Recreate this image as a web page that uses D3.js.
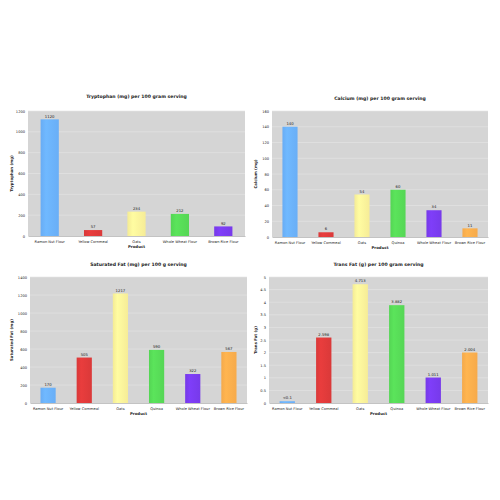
<!DOCTYPE html>
<html>
<head>
<meta charset="utf-8">
<script src="https://cdn.jsdelivr.net/npm/d3@7"></script>
<style>
  body { margin: 0; background: #fff; }
  text { font-family: "DejaVu Sans", Verdana, sans-serif; fill: #222; }
</style>
</head>
<body>
<script>
// data
var tryptoProducts = ["Ramon Nut Flour", "Yellow Cornmeal", "Oats", "Whole Wheat Flour", "Brown Rice Flour"];
var tryptoValues = [1120, 57, 234, 212, 92];
var tryptoLabels = ["1120", "57", "234", "212", "92"];
var tryptoTicks = [0, 200, 400, 600, 800, 1000, 1200];

var sixProducts = ["Ramon Nut Flour", "Yellow Cornmeal", "Oats", "Quinoa", "Whole Wheat Flour", "Brown Rice Flour"];

var calciumValues = [140, 6, 54, 60, 34, 11];
var calciumLabels = ["140", "6", "54", "60", "34", "11"];
var calciumTicks = [0, 20, 40, 60, 80, 100, 120, 140, 160];

var satFatValues = [170, 505, 1217, 590, 322, 567];
var satFatLabels = ["170", "505", "1217", "590", "322", "567"];
var satFatTicks = [0, 200, 400, 600, 800, 1000, 1200, 1400];

var transFatValues = [0.07, 2.598, 4.713, 3.882, 1.011, 2.004];
var transFatLabels = ["<0.1", "2.598", "4.713", "3.882", "1.011", "2.004"];
var transFatTicks = [0, 0.5, 1, 1.5, 2, 2.5, 3, 3.5, 4, 4.5, 5];

var fiveColors = ["#6db4ff", "#e23b3b", "#fff59c", "#58de58", "#7b3cf2"];
var sixColors = ["#6db4ff", "#e23b3b", "#fff59c", "#58de58", "#7b3cf2", "#ffb04e"];

var panels = [
  { title: "Tryptophan (mg) per 100 gram serving", yTitle: "Tryptophan (mg)",
    cats: tryptoProducts, vals: tryptoValues, labels: tryptoLabels, ticks: tryptoTicks, colors: fiveColors,
    x0: 28, x1: 245, y0: 111, y1: 236, titleY: 98, yTitleX: 13 },
  { title: "Calcium (mg) per 100 gram serving", yTitle: "Calcium (mg)",
    cats: sixProducts, vals: calciumValues, labels: calciumLabels, ticks: calciumTicks, colors: sixColors,
    x0: 272, x1: 488, y0: 111, y1: 237, titleY: 100, yTitleX: 257 },
  { title: "Saturated Fat (mg) per 100 g serving", yTitle: "Saturated Fat (mg)",
    cats: sixProducts, vals: satFatValues, labels: satFatLabels, ticks: satFatTicks, colors: sixColors,
    x0: 30, x1: 247, y0: 277, y1: 403, titleY: 266, yTitleX: 13 },
  { title: "Trans Fat (g) per 100 gram serving", yTitle: "Trans Fat (g)",
    cats: sixProducts, vals: transFatValues, labels: transFatLabels, ticks: transFatTicks, colors: sixColors,
    x0: 269, x1: 488, y0: 277, y1: 403, titleY: 266, yTitleX: 257 }
];

var svg = d3.select("body").append("svg")
  .attr("width", 500)
  .attr("height", 500);

var defs = svg.append("defs");

panels.forEach(function(p, pi){

  var xScale = d3.scaleBand()
    .domain(p.cats)
    .range([p.x0, p.x1])
    .paddingInner(0.58)
    .paddingOuter(0.29);

  var yScale = d3.scaleLinear()
    .domain([0, d3.max(p.ticks)])
    .range([p.y1, p.y0]);

  var g = svg.append("g");

  // plot background
  g.append("rect")
    .attr("x", p.x0)
    .attr("y", p.y0)
    .attr("width", p.x1 - p.x0)
    .attr("height", p.y1 - p.y0)
    .attr("fill", "#d5d5d5");

  // grid
  g.selectAll(".grid")
    .data(p.ticks.slice(1))
    .enter()
    .append("line")
    .attr("x1", p.x0)
    .attr("x2", p.x1)
    .attr("y1", function(d){ return yScale(d); })
    .attr("y2", function(d){ return yScale(d); })
    .attr("stroke", "#e6e6e6")
    .attr("stroke-width", 0.6);

  // y axis
  var yAxis = d3.axisLeft(yScale)
    .tickValues(p.ticks)
    .tickSize(0)
    .tickPadding(3)
    .tickFormat(function(d){ return String(d); });

  var ya = g.append("g")
    .attr("transform", "translate(" + p.x0 + ",0)")
    .call(yAxis);
  ya.select(".domain").remove();
  ya.selectAll("text").attr("font-size", 3.6).attr("fill", "#222");

  // x axis
  var xAxis = d3.axisBottom(xScale).tickSize(0).tickPadding(4.5);
  var xa = g.append("g")
    .attr("transform", "translate(0," + p.y1 + ")")
    .call(xAxis);
  xa.select(".domain").attr("stroke", "#9a9a9a").attr("stroke-width", 0.6);
  xa.selectAll("text").attr("font-size", 3.6).attr("fill", "#222");

  // bar gradients, a light sheen on the left
  p.colors.forEach(function(c, i){
    var grad = defs.append("linearGradient")
      .attr("id", "g" + pi + "_" + i)
      .attr("x1", "0").attr("x2", "1").attr("y1", "0").attr("y2", "0");
    grad.append("stop").attr("offset", "0%").attr("stop-color", d3.color(c).darker(0.12));
    grad.append("stop").attr("offset", "30%").attr("stop-color", d3.color(c).brighter(0.08));
    grad.append("stop").attr("offset", "100%").attr("stop-color", d3.color(c).darker(0.1));
  });

  // bars
  g.selectAll(".bar")
    .data(p.vals)
    .enter()
    .append("rect")
    .attr("x", function(d, i){ return xScale(p.cats[i]); })
    .attr("y", function(d){ return yScale(d); })
    .attr("width", xScale.bandwidth())
    .attr("height", function(d){ return p.y1 - yScale(d); })
    .attr("fill", function(d, i){ return "url(#g" + pi + "_" + i + ")"; });

  // value labels
  g.selectAll(".val")
    .data(p.vals)
    .enter()
    .append("text")
    .text(function(d, i){ return p.labels[i]; })
    .attr("x", function(d, i){ return xScale(p.cats[i]) + xScale.bandwidth() / 2; })
    .attr("y", function(d){ return yScale(d) - 1.8; })
    .attr("text-anchor", "middle")
    .attr("font-size", 3.8);

  // titles
  g.append("text")
    .text(p.title)
    .attr("x", (p.x0 + p.x1) / 2)
    .attr("y", p.titleY)
    .attr("text-anchor", "middle")
    .attr("font-size", 4.6)
    .attr("font-weight", "bold");

  g.append("text")
    .text("Product")
    .attr("x", (p.x0 + p.x1) / 2)
    .attr("y", p.y1 + 12)
    .attr("text-anchor", "middle")
    .attr("font-size", 3.9)
    .attr("font-weight", "bold");

  g.append("text")
    .text(p.yTitle)
    .attr("transform", "translate(" + p.yTitleX + "," + ((p.y0 + p.y1) / 2) + ") rotate(-90)")
    .attr("text-anchor", "middle")
    .attr("font-size", 3.9)
    .attr("font-weight", "bold");
});
</script>
</body>
</html>
